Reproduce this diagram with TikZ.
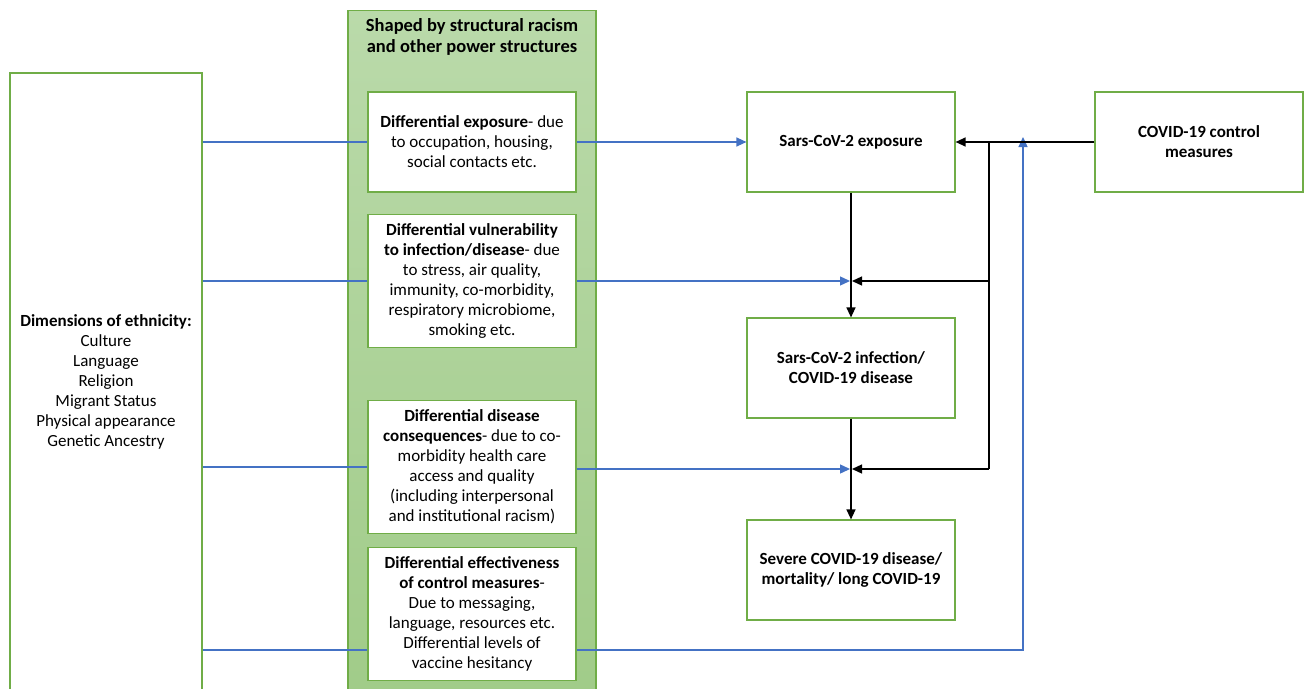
\documentclass[tikz,border=0pt]{standalone}
\usepackage{fontspec}
\setmainfont{Carlito}
\usetikzlibrary{arrows.meta, calc}

\definecolor{boxgreen}{RGB}{112,173,71}
\definecolor{paneltop}{RGB}{186,218,170}
\definecolor{panelbottom}{RGB}{160,203,136}
\definecolor{linkblue}{RGB}{68,114,196}

\begin{document}
\begin{tikzpicture}
      [
        x=1pt, y=-1pt,
        font=\fontsize{17}{20}\selectfont,
        box/.style={draw=boxgreen, line width=1.2pt, fill=white, align=center,
          minimum width=208pt, minimum height=100pt, inner sep=0pt},
        tallbox/.style={box, minimum height=133pt},
        blueline/.style={draw=linkblue, line width=1.3pt},
        bluearrow/.style={blueline, -{Triangle[length=10pt,width=9pt]}},
        blackarrow/.style={draw=black, line width=1.3pt, -{Triangle[length=10pt,width=9pt]}}
      ]
      \clip (0,0) rectangle (1305,688);
      \fill[white] (0,0) rectangle (1305,688);
      % green panel
      \node (panel) [draw=boxgreen, line width=1.2pt, top color=paneltop,
        bottom color=panelbottom, minimum width=248pt, minimum height=700pt,
        anchor=north] at (472,10) {};
      \node (title) [align=center, font=\fontsize{18.5}{21}\selectfont] at (472,37)
        {\textbf{Shaped by structural racism}\\ \textbf{and other power structures}};
      % left box
      \node (ethnic) [box, minimum width=192pt, minimum height=618pt] at (106,382)
        {\textbf{Dimensions of ethnicity:}\\ Culture\\ Language\\ Religion\\
         Migrant Status\\ Physical appearance\\ Genetic Ancestry};
      % differential boxes
      \node (expo) [box] at (472,142)
        {\textbf{Differential exposure}- due\\ to occupation, housing,\\ social contacts etc.};
      \node (vuln) [tallbox] at (472,281)
        {\textbf{Differential vulnerability}\\ \textbf{to infection/disease}- due\\
         to stress, air quality,\\ immunity, co-morbidity,\\ respiratory microbiome,\\ smoking etc.};
      \node (cons) [tallbox] at (472,467)
        {\textbf{Differential disease}\\ \textbf{consequences}- due to co-\\
         morbidity health care\\ access and quality\\ (including interpersonal\\ and institutional racism)};
      \node (effect) [tallbox] at (472,614)
        {\textbf{Differential effectiveness}\\ \textbf{of control measures}-\\
         Due to messaging,\\ language, resources etc.\\ Differential levels of\\ vaccine hesitancy};
      % outcome boxes
      \node (sars) [box] at (851,142) {\textbf{Sars-CoV-2 exposure}};
      \node (infect) [box] at (851,368)
        {\textbf{Sars-CoV-2 infection/}\\ \textbf{COVID-19 disease}};
      \node (severe) [box] at (851,570)
        {\textbf{Severe COVID-19 disease/}\\ \textbf{mortality/ long COVID-19}};
      \node (control) [box] at (1199,142)
        {\textbf{COVID-19 control}\\ \textbf{measures}};
      % joints
      \coordinate (j1) at (851,281);
      \coordinate (j2) at (851,469);
      \coordinate (k0) at (989,142);
      \coordinate (k1) at (989,281);
      \coordinate (k2) at (989,469);
      \coordinate (c4) at (1023,650);
      \coordinate (c4top) at (1023,142);
      % blue links
      \draw[blueline] (ethnic.east |- expo) -- (expo.west);
      \draw[bluearrow] (expo.east) -- (sars.west);
      \draw[blueline] (ethnic.east |- vuln) -- (vuln.west);
      \draw[bluearrow] (vuln.east) -- ([xshift=-1pt]j1);
      \draw[blueline] (ethnic.east |- cons) -- (cons.west);
      \draw[bluearrow] (cons.east |- j2) -- ([xshift=-1pt]j2);
      \draw[blueline] (ethnic.east |- c4) -- (effect.west |- c4);
      \draw[bluearrow] (effect.east |- c4) -- (c4) -- ([yshift=5pt]c4top);
      % black links
      \draw[blackarrow] (control.west) -- (sars.east);
      \draw[line width=1.3pt] (k0) -- (k2);
      \draw[blackarrow] (k1) -- ([xshift=1pt]j1);
      \draw[blackarrow] (k2) -- ([xshift=1pt]j2);
      \draw[blackarrow] (sars.south) -- (infect.north);
      \draw[blackarrow] (infect.south) -- (severe.north);
\end{tikzpicture}
\end{document}
